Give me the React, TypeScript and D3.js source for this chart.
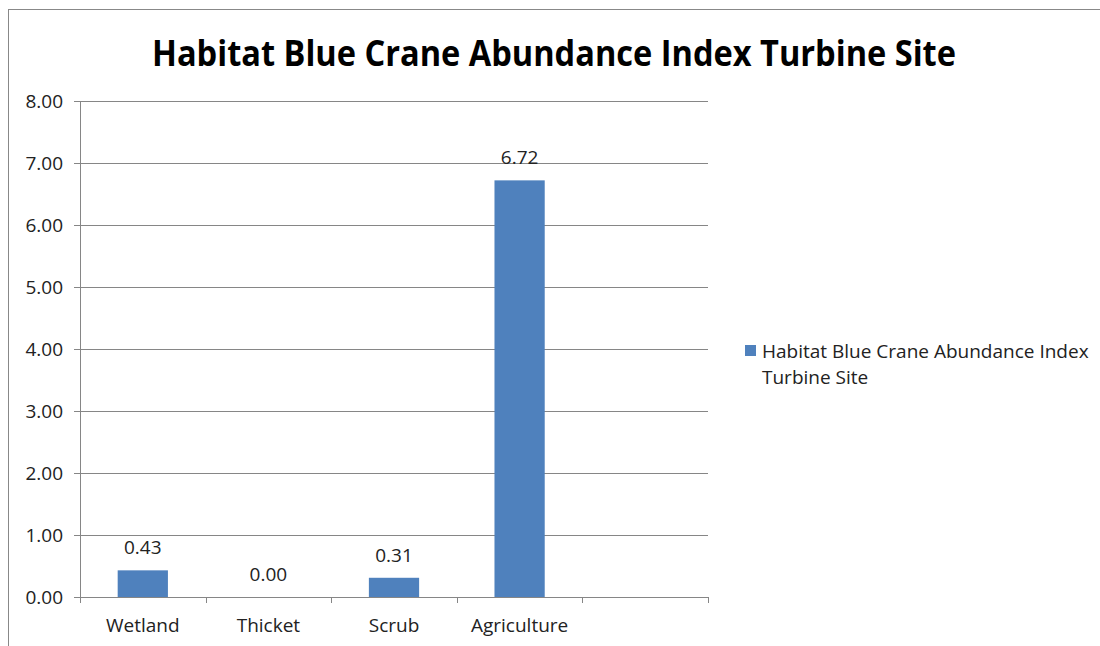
import React from "react";
import * as d3 from "d3";

// Category slots along the x axis (the last slot is left empty)
const categories = ["Wetland", "Thicket", "Scrub", "Agriculture", ""];
const values = [0.43, 0.0, 0.31, 6.72];
const yTicks = [0, 1, 2, 3, 4, 5, 6, 7, 8];
const seriesName = "Habitat Blue Crane Abundance Index Turbine Site";
const legendLines = ["Habitat Blue Crane Abundance Index", "Turbine Site"];
const title = "Habitat Blue Crane Abundance Index Turbine Site";

const W = 1100;
const H = 646;
const plot = { left: 80, right: 708, top: 101, bottom: 597 };
const BAR = "#4F81BD";
const AXIS = "#868686";
const FONT = "'Open Sans', sans-serif";
const FS = 19;

export default function App() {
  const x = d3
    .scaleBand<string>()
    .domain(categories.map((c, i) => `${i}:${c}`))
    .range([plot.left, plot.right])
    .paddingInner(0.6)
    .paddingOuter(0.3);
  const y = d3.scaleLinear().domain([0, 8]).range([plot.bottom, plot.top]);
  const step = x.step();
  const keys = x.domain();
  const fmt = d3.format(".2f");

  return (
    <svg
      width={W}
      height={H}
      style={{ position: "absolute", left: 0, top: 0, background: "#fff" }}
      fontFamily={FONT}
    >
      {/* chart frame */}
      <rect x={8.5} y={9.5} width={W + 10} height={H + 10} fill="#fff" stroke="#888" strokeWidth={1} />

      <text
        x={554}
        y={66}
        textAnchor="middle"
        fontSize={35}
        fontWeight={700}
        fill="#000"
        textLength={804}
        lengthAdjust="spacingAndGlyphs"
      >
        {title}
      </text>

      {/* horizontal gridlines and y tick labels */}
      {yTicks.map((t) => (
        <g key={t}>
          <line x1={plot.left - 6} x2={plot.right} y1={Math.round(y(t)) + 0.5} y2={Math.round(y(t)) + 0.5} stroke={AXIS} strokeWidth={1} />
          <text x={63} y={y(t) + 7} textAnchor="end" fontSize={FS} fill="#222">
            {fmt(t)}
          </text>
        </g>
      ))}

      {/* y axis */}
      <line x1={plot.left + 0.5} x2={plot.left + 0.5} y1={plot.top} y2={plot.bottom} stroke={AXIS} />

      {/* x axis tick marks at slot boundaries */}
      {d3.range(categories.length + 1).map((i) => {
        const xx = Math.round(plot.left + i * step) + 0.5;
        return <line key={i} x1={xx} x2={xx} y1={plot.bottom} y2={plot.bottom + 6} stroke={AXIS} />;
      })}

      {/* bars and value labels */}
      {values.map((v, i) => {
        const bx = x(keys[i])!;
        return (
          <g key={i}>
            <rect x={bx} y={y(v)} width={x.bandwidth()} height={y(0) - y(v)} fill={BAR} />
            <text x={bx + x.bandwidth() / 2} y={y(v) - 16} textAnchor="middle" fontSize={FS} fill="#222">
              {fmt(v)}
            </text>
          </g>
        );
      })}

      {/* category labels */}
      {categories.map((c, i) => (
        <text key={i} x={x(keys[i])! + x.bandwidth() / 2} y={632} textAnchor="middle" fontSize={FS} fill="#222">
          {c}
        </text>
      ))}

      {/* legend */}
      <g aria-label={seriesName}>
        <rect x={745} y={345} width={11} height={11} fill={BAR} />
        {legendLines.map((l, i) => (
          <text key={i} x={762} y={358 + i * 26} fontSize={FS} fill="#222">
            {l}
          </text>
        ))}
      </g>
    </svg>
  );
}
